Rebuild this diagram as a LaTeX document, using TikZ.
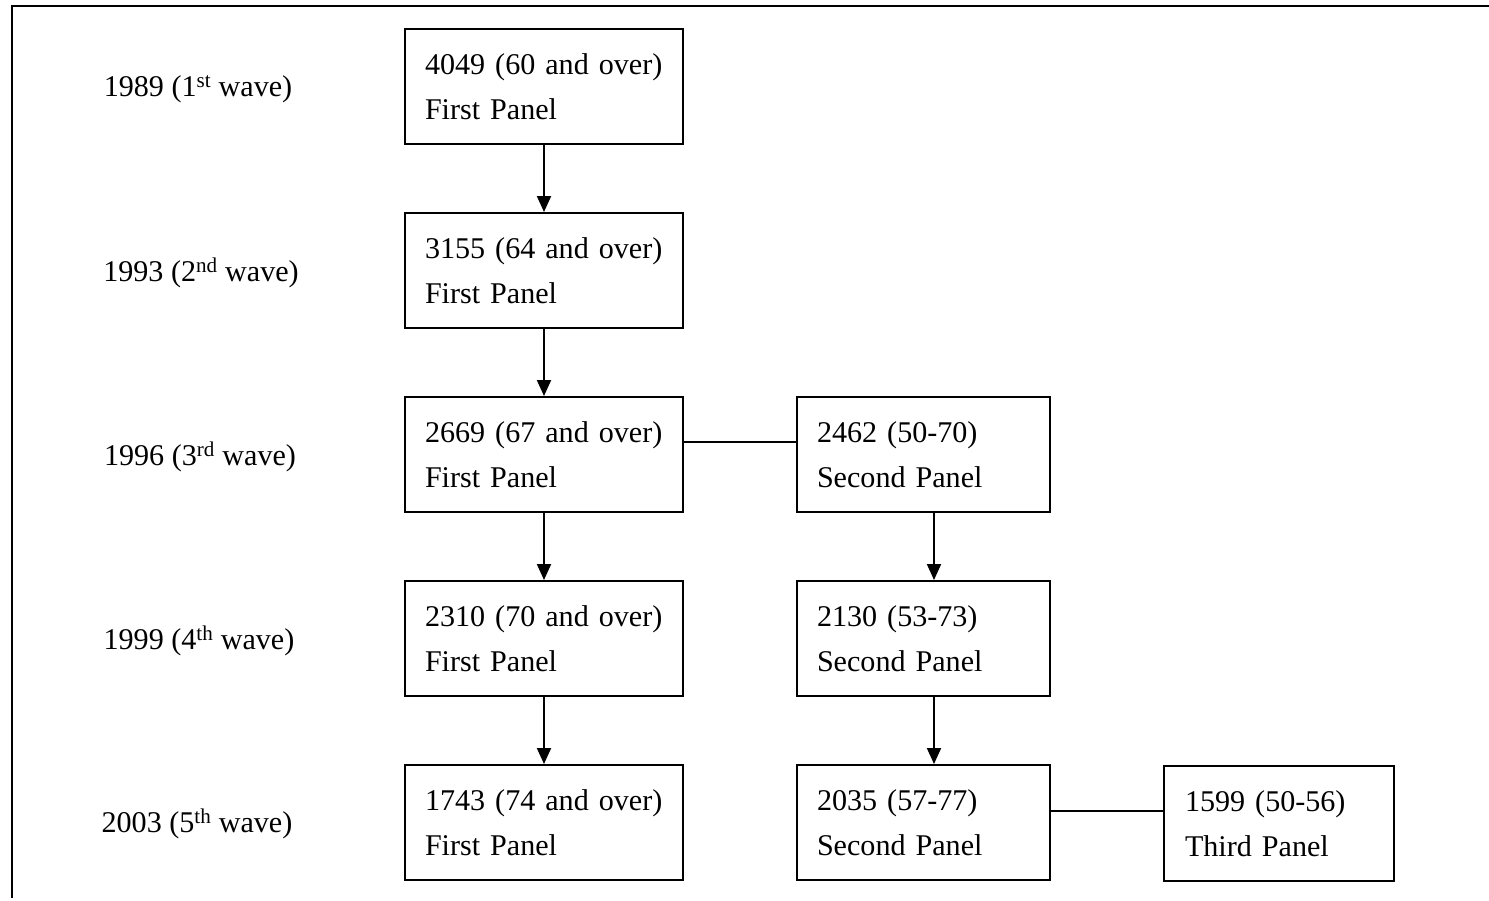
\documentclass[tikz,border=0pt]{standalone}
\usepackage{fontspec}
\setmainfont{Liberation Serif}
\usetikzlibrary{arrows.meta}
\begin{document}
\begin{tikzpicture}[x=1pt,y=-1pt,
  every node/.style={font=\fontsize{30.1}{45}\selectfont},
  box/.style={draw, line width=2pt, minimum height=115pt, inner xsep=20pt, inner ysep=0pt, align=left, anchor=center},
  c1/.style={box, minimum width=278pt, text width=238pt},
  c2/.style={box, minimum width=253pt, text width=213pt},
  c3/.style={box, minimum width=230pt, text width=188pt, inner xsep=21pt},
  lab/.style={anchor=center, inner sep=0pt},
  arr/.style={line width=2pt, -{Triangle[length=16pt,width=14pt]}},
  link/.style={line width=2pt}]
\useasboundingbox (0,0) rectangle (1489,900);
\draw[line width=2.5pt] (12,898) -- (12,6) -- (1489,6);
% year labels
\node[lab] (y1) at (198,89) {1989 (1\textsuperscript{st} wave)};
\node[lab] (y2) at (201,273) {1993 (2\textsuperscript{nd} wave)};
\node[lab] (y3) at (200,457) {1996 (3\textsuperscript{rd} wave)};
\node[lab] (y4) at (199,641) {1999 (4\textsuperscript{th} wave)};
\node[lab] (y5) at (197,824) {2003 (5\textsuperscript{th} wave)};
% first panel
\node[c1] (a1) at (544,86.5) {\mbox{4049 (60 and over)}\\\mbox{First Panel}};
\node[c1] (a2) at (544,270.5) {\mbox{3155 (64 and over)}\\\mbox{First Panel}};
\node[c1] (a3) at (544,454.5) {\mbox{2669 (67 and over)}\\\mbox{First Panel}};
\node[c1] (a4) at (544,638.5) {\mbox{2310 (70 and over)}\\\mbox{First Panel}};
\node[c1] (a5) at (544,822.5) {\mbox{1743 (74 and over)}\\\mbox{First Panel}};
% second panel
\node[c2] (b3) at (923.5,454.5) {2462 (50-70)\\Second Panel};
\node[c2] (b4) at (923.5,638.5) {2130 (53-73)\\Second Panel};
\node[c2] (b5) at (923.5,822.5) {2035 (57-77)\\Second Panel};
% third panel
\node[c3] (c5) at (1279,823.5) {1599 (50-56)\\Third Panel};
% arrows
\draw[arr] (a1.south) -- (a2.north);
\draw[arr] (a2.south) -- (a3.north);
\draw[arr] (a3.south) -- (a4.north);
\draw[arr] (a4.south) -- (a5.north);
\draw[arr] ([xshift=10.5pt]b3.south) -- ([xshift=10.5pt]b4.north);
\draw[arr] ([xshift=10.5pt]b4.south) -- ([xshift=10.5pt]b5.north);
% links
\draw[link] ([yshift=12.5pt]a3.east) -- ([yshift=12.5pt]b3.west);
\draw[link] ([yshift=11.5pt]b5.east) -- ([yshift=11.5pt]b5.east -| c5.west);
\end{tikzpicture}
\end{document}
